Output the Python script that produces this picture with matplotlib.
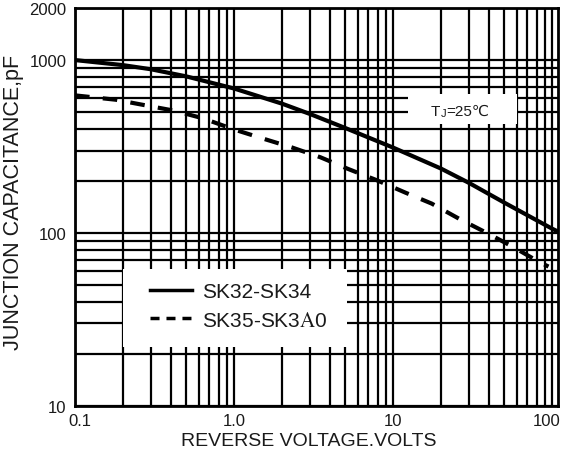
import matplotlib
matplotlib.use("Agg")
import matplotlib.pyplot as plt
from matplotlib.lines import Line2D
from matplotlib.patches import Rectangle
from matplotlib.ticker import FixedLocator, NullFormatter, LogLocator
from matplotlib.transforms import ScaledTranslation

plt.rcParams['font.family'] = ['Liberation Sans', 'DejaVu Sans']
plt.rcParams['mathtext.fontset'] = 'stix'

# reverse voltage (V) vs junction capacitance (pF)
v_sk32 = [0.1, 0.2, 0.3, 0.5, 1.0, 2.0, 3.0, 5.0, 10, 20, 30, 50, 100, 109]
c_sk32 = [1000, 935, 885, 805, 685, 560, 488, 405, 312, 236, 195, 150, 106, 102]

v_sk35 = [0.1, 0.18, 0.27, 0.42, 0.64, 1.0, 1.5, 2.3, 3.5, 5.2, 7.9, 12, 17.5, 26, 39, 57, 83, 95]
c_sk35 = [625, 590, 550, 510, 460, 397, 353, 313, 274, 235, 202, 171, 148, 121, 100, 83, 68, 64]

x_ticks = [0.1, 1.0, 10, 100]
x_ticklabels = ["0.1", "1.0", "10", "100"]
y_ticks = [10, 100, 1000, 2000]
y_ticklabels = ["10", "100", "1000", "2000"]

txt = '#1a1a1a'

fig = plt.figure(figsize=(5.64, 4.56), dpi=100)
ax = fig.add_axes([75/564, 1-407/456, 483/564, 398/456])

ax.set_xscale('log')
ax.set_yscale('log')
ax.set_xlim(0.1, 109)
ax.set_ylim(10, 2000)

ax.plot(v_sk32, c_sk32, color='black', lw=3, solid_capstyle='butt', zorder=3)
ax.plot(v_sk35, c_sk35, color='black', lw=3, dashes=(3.5, 3.2), zorder=3)

# grid
ax.xaxis.set_major_locator(FixedLocator(x_ticks))
ax.xaxis.set_minor_locator(LogLocator(base=10, subs=range(2, 10)))
ax.yaxis.set_major_locator(FixedLocator(y_ticks))
ax.yaxis.set_minor_locator(LogLocator(base=10, subs=range(2, 10)))
ax.xaxis.set_minor_formatter(NullFormatter())
ax.yaxis.set_minor_formatter(NullFormatter())
ax.set_xticklabels(x_ticklabels)
ax.set_yticklabels(y_ticklabels)
ax.grid(True, which='both', color='black', lw=1.6)
ax.tick_params(which='both', length=0, labelsize=12, colors=txt)
ax.tick_params(axis='x', pad=5)
ax.tick_params(axis='y', pad=6)
for s in ax.spines.values():
    s.set_linewidth(2)

xl = ax.get_xticklabels()
xl[0].set_transform(xl[0].get_transform() + ScaledTranslation(0.05, 0, fig.dpi_scale_trans))
xl[-1].set_transform(xl[-1].get_transform() + ScaledTranslation(-0.05, 0, fig.dpi_scale_trans))

# white boxes covering the grid
ax.add_patch(Rectangle(((123-75)/483, (407-348)/398), 224/483, 78/398,
                       transform=ax.transAxes, facecolor='white',
                       edgecolor='none', zorder=2.5))
ax.add_patch(Rectangle(((408-75)/483, (407-125)/398), 109/483, 30/398,
                       transform=ax.transAxes, facecolor='white',
                       edgecolor='none', zorder=2.5))

t1 = ax.text((431-75)/483, (407-116)/398, "T", transform=ax.transAxes,
             ha='left', va='baseline', fontsize=11, color=txt, zorder=4)
t2 = ax.annotate("J", xy=(1, 0), xycoords=t1, ha='left', va='bottom',
                 fontsize=8, color=txt, zorder=4)
t3 = ax.annotate("=25℃", xy=(1, 0), xycoords=t2, ha='left', va='bottom',
                 fontsize=11, color=txt, zorder=4)

handles = [Line2D([], [], color='black', lw=2.5),
           Line2D([], [], color='black', lw=2.5, dashes=(2.6, 2.0))]
leg = ax.legend(handles, ["SK32-SK34", "SK35-SK3$\\mathrm{A}$0"],
                loc='center left', bbox_to_anchor=((140-75)/483, (407-307)/398),
                frameon=False, fontsize=15, handlelength=2.0,
                handletextpad=0.5, labelspacing=0.45, borderpad=0)
for t in leg.get_texts():
    t.set_color(txt)
leg.set_zorder(5)

ax.set_xlabel("REVERSE VOLTAGE.VOLTS", fontsize=14, color=txt)
ax.xaxis.set_label_coords((309-75)/483, -(433-407)/398)
ax.set_ylabel("JUNCTION CAPACITANCE,pF", fontsize=15.5, color=txt)
ax.yaxis.set_label_coords(-(75-24)/483, (407-202)/398)

fig.savefig("out.png", dpi=100)
